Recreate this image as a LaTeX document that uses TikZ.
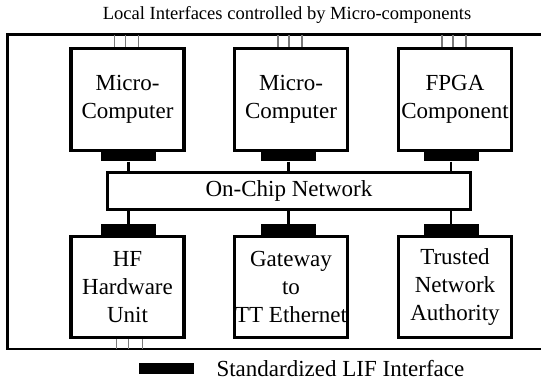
\documentclass[tikz,border=0pt]{standalone}
\usepackage{fontspec}
\setmainfont{Liberation Serif}
\usetikzlibrary{positioning}
\usepackage{xcolor}
\definecolor{tickgray}{HTML}{7A7A7A}

\tikzset{
  comp/.style={draw,line width=2.3pt,minimum width=84.75pt,minimum height=77pt,inner sep=0pt,align=center,font=\fontsize{17.25}{21}\selectfont},
  lif/.style={fill=black,minimum width=41.25pt,minimum height=8.6pt,inner sep=0pt},
  link/.style={line width=1.6pt},
  tick/.style={tickgray,line width=0.8pt},
}

\begin{document}
\begin{tikzpicture}[x=0.75pt,y=-0.75pt]
		\useasboundingbox (0,0) rectangle (541,383);
		\coordinate (tl) at (7.5,34.5);
		\coordinate (bl) at (7.5,349);
		\coordinate (tr) at (548,34.5);
		\coordinate (br) at (548,349);
		%title
		\node[anchor=base,inner sep=0pt,font=\fontsize{13.9}{16}\selectfont] (title) at (287,19) {Local Interfaces controlled by Micro-components};
		%frame
		\draw[line width=1.6pt] (tr) -- (tl) -- (bl) -- (br);
		%components
		\node[comp] (mc1) at (127.5,99.5) {Micro-\\Computer};
		\node[comp] (mc2) at (291,99.5) {Micro-\\Computer};
		\node[comp] (fpga) at (455,99.5) {FPGA\\Component};
		\node[comp,minimum height=76pt] (hf) at (127.5,287.25) {HF\\Hardware\\Unit};
		\node[comp,minimum height=76pt] (gw) at (291,287.25) {Gateway\\to\\TT Ethernet};
		\node[comp,minimum height=76pt] (tna) at (455,287.25) {Trusted\\Network\\Authority};
		%network
		\node[draw,line width=1.6pt,minimum width=272.25pt,minimum height=27.75pt,inner sep=0pt,font=\fontsize{17.25}{21}\selectfont] (noc) at (289,191) {On-Chip Network};
		%local interfaces
		\foreach \b in {mc1,mc2,fpga}
			\foreach \dx in {-13,-2,11}
				\draw[tick] ([xshift=\dx*0.75pt]\b.north) -- ([xshift=\dx*0.75pt]\b.north |- tl);
		\foreach \dx in {-11,1,15}
			\draw[tick] ([xshift=\dx*0.75pt]hf.south) -- ([xshift=\dx*0.75pt]hf.south |- bl);
		%lif pads
		\node[lif] (p1) at (128.5,155.5) {};
		\node[lif] (p2) at (288.5,155.5) {};
		\node[lif] (p3) at (451,155.5) {};
		\node[lif] (q1) at (128.5,229.5) {};
		\node[lif] (q2) at (288.5,229.5) {};
		\node[lif] (q3) at (451,229.5) {};
		\foreach \p in {p1,p2,p3}
			\draw[link] (\p.south) -- (\p.south |- noc.north);
		\foreach \q in {q1,q2,q3}
			\draw[link] (\q.north) -- (\q.north |- noc.south);
		%legend
		\node[lif] (key) at (166.5,368.5) {};
		\node[right=16.5pt of key,inner sep=0pt,font=\fontsize{17.25}{21}\selectfont] (keytext) {Standardized LIF Interface};
	\end{tikzpicture}
\end{document}
